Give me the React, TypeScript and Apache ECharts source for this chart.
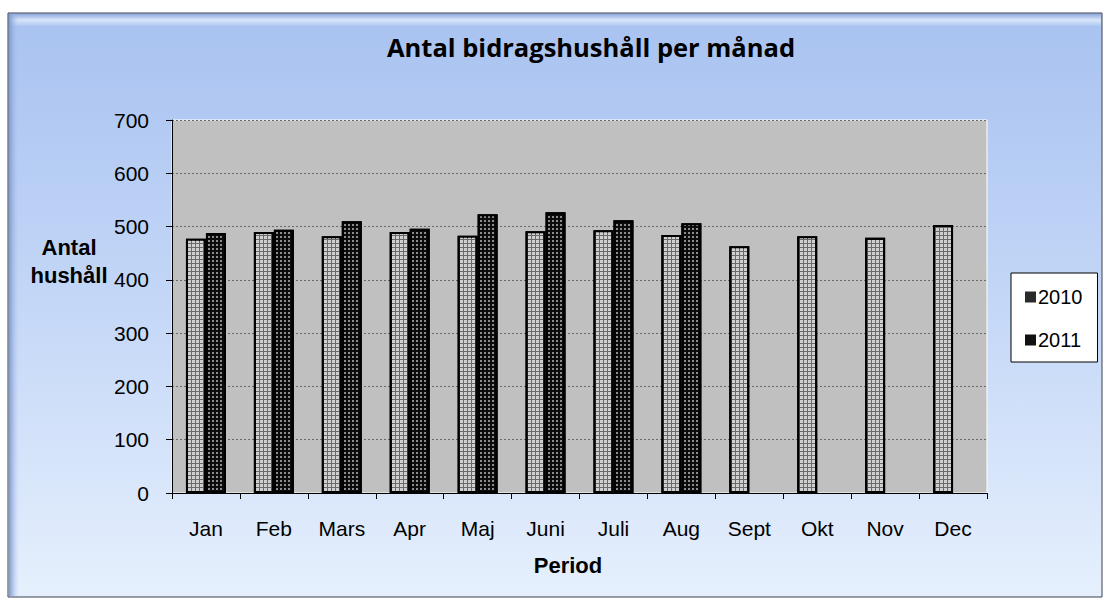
import React, { useEffect, useRef } from "react";
import * as echarts from "echarts";

const categories = ["Jan", "Feb", "Mars", "Apr", "Maj", "Juni", "Juli", "Aug", "Sept", "Okt", "Nov", "Dec"];
const values2010 = [477, 490, 482, 490, 483, 491, 493, 484, 463, 482, 479, 503];
const values2011 = [488, 494, 510, 496, 523, 527, 512, 506, null, null, null, null];
const yTicks = { min: 0, max: 700, interval: 100 };

export default function App() {
  const ref = useRef<HTMLDivElement>(null);
  useEffect(() => {
    const chart = echarts.init(ref.current!, null, { renderer: "svg" });
    const font = "Arial, 'Liberation Sans', sans-serif";
    chart.setOption({
      animation: false,
      textStyle: { fontFamily: font },
      graphic: [
        {
          type: "rect",
          shape: { x: 8, y: 13, width: 1094, height: 584 },
          style: {
            fill: new echarts.graphic.LinearGradient(0, 0, 0, 1, [
              { offset: 0, color: "#a8c2f0" },
              { offset: 0.5, color: "#c4d7f7" },
              { offset: 1, color: "#e6f0fd" },
            ]),
            stroke: "#3a4150",
            lineWidth: 1,
          },
          z: -10,
        },
        {
          type: "rect",
          shape: { x: 9, y: 14, width: 1092, height: 12 },
          style: {
            fill: new echarts.graphic.LinearGradient(0, 0, 0, 1, [
              { offset: 0, color: "#8fa9dc" },
              { offset: 0.5, color: "#d8e6fb" },
              { offset: 1, color: "#aec7f0" },
            ]),
          },
          z: -9,
        },
        {
          type: "rect",
          shape: { x: 9, y: 14, width: 10, height: 582 },
          style: {
            fill: new echarts.graphic.LinearGradient(0, 0, 1, 0, [
              { offset: 0, color: "#7f9ad0" },
              { offset: 1, color: "rgba(180,200,240,0)" },
            ]),
          },
          z: -9,
        },
        {
          type: "text",
          x: 591,
          y: 47,
          style: {
            text: "Antal bidragshushåll per månad",
            font: `bold 25.5px 'Open Sans', Lato, sans-serif`,
            fill: "#000",
            align: "center",
            verticalAlign: "middle",
          },
        },
        {
          type: "text",
          x: 69,
          y: 261,
          style: {
            text: "Antal\nhushåll",
            font: `bold 22px ${font}`,
            lineHeight: 28,
            fill: "#000",
            align: "center",
            verticalAlign: "middle",
          },
        },
        {
          type: "text",
          x: 568,
          y: 565,
          style: {
            text: "Period",
            font: `bold 22px ${font}`,
            fill: "#000",
            align: "center",
            verticalAlign: "middle",
          },
        },
      ],
      grid: {
        left: 172,
        right: 118,
        top: 120,
        bottom: 106,
        show: true,
        backgroundColor: "#c0c0c0",
        borderColor: "#ffffff",
        borderWidth: 1,
      },
      legend: {
        orient: "vertical",
        left: 1011,
        top: 273,
        padding: [14, 15, 12, 14],
        itemGap: 23,
        itemWidth: 11,
        itemHeight: 11,
        backgroundColor: "#ffffff",
        borderColor: "#000",
        borderWidth: 1,
        borderRadius: 0,
        textStyle: { fontSize: 20, color: "#000", fontFamily: font, padding: [0, 0, 0, -3] },
        data: [
          { name: "2010", icon: "rect", itemStyle: { color: "#2a2a2a", borderWidth: 0, decal: "none" } },
          { name: "2011", icon: "rect", itemStyle: { color: "#111", borderWidth: 0, decal: "none" } },
        ],
      },
      xAxis: {
        type: "category",
        data: categories,
        axisLine: { lineStyle: { color: "#000", width: 1 } },
        axisTick: { show: true, length: 6, lineStyle: { color: "#000" } },
        axisLabel: { fontSize: 21, color: "#000", margin: 25, fontFamily: font },
        splitLine: { show: false },
      },
      yAxis: {
        type: "value",
        min: yTicks.min,
        max: yTicks.max,
        interval: yTicks.interval,
        axisLine: { show: true, lineStyle: { color: "#000", width: 1 } },
        axisTick: { show: true, length: 6, lineStyle: { color: "#000" } },
        axisLabel: { fontSize: 21, color: "#000", margin: 23, fontFamily: font },
        splitLine: { show: true, lineStyle: { color: "#6a6a6a", type: [2, 2], width: 1 } },
      },
      series: [
        {
          name: "2010",
          type: "bar",
          data: values2010,
          barWidth: 20,
          barGap: "0%",
          itemStyle: {
            color: "#6a6a6a",
            borderColor: "#000",
            borderWidth: 2,
            decal: {
              symbol: "rect",
              symbolSize: 1,
              color: "#d0d0d0",
              dashArrayX: [3, 1],
              dashArrayY: [3, 1],
              rotation: 0,
            },
          },
        },
        {
          name: "2011",
          type: "bar",
          data: values2011,
          barWidth: 20,
          itemStyle: {
            color: "#0c0c0c",
            borderColor: "#000",
            borderWidth: 2,
            decal: {
              symbol: "rect",
              symbolSize: 1,
              color: "#8c8c8c",
              dashArrayX: [2, 2],
              dashArrayY: [2, 2],
              rotation: 0,
            },
          },
        },
      ],
    });
    return () => chart.dispose();
  }, []);
  return <div ref={ref} style={{ position: "absolute", left: 0, top: 0, width: 1105, height: 599 }} />;
}
